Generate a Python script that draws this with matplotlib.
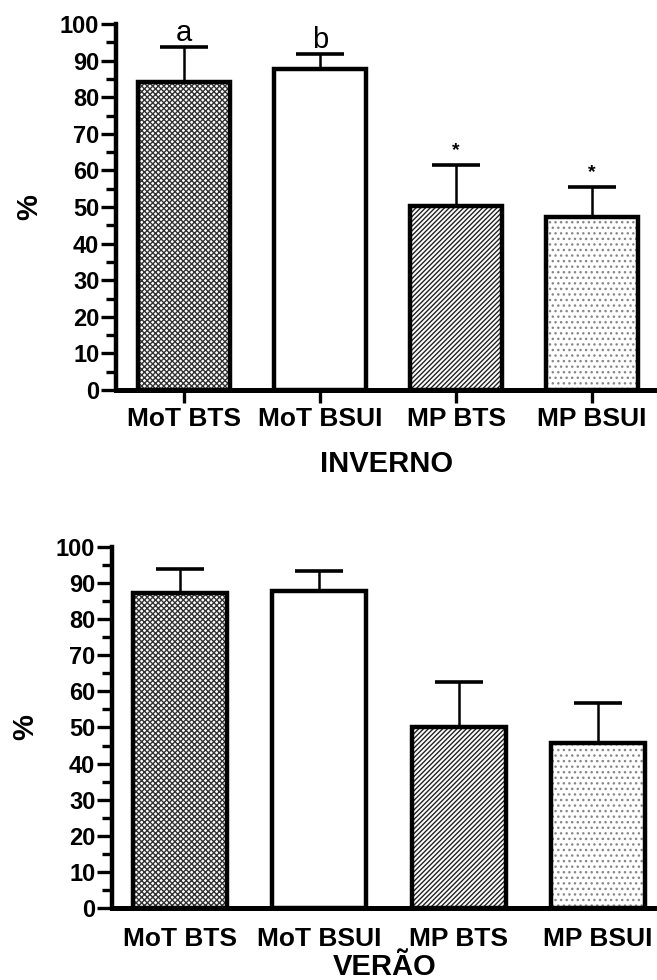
import numpy as np
import matplotlib.pyplot as plt

plt.rcParams['font.family'] = ['Liberation Sans', 'DejaVu Sans']
plt.rcParams['hatch.linewidth'] = 1.0

groups = ['MoT BTS', 'MoT BSUI', 'MP BTS', 'MP BSUI']

# INVERNO
inverno_mean = [84.2, 87.7, 50.3, 47.3]
inverno_err = [9.5, 4.1, 11.2, 8.2]
inverno_marks = ['a', 'b', '*', '*']

# VERAO
verao_mean = [87.3, 87.8, 50.1, 45.7]
verao_err = [6.6, 5.6, 12.5, 11.1]

# fill style per group: face, hatch, hatch colour
faces = ['white', 'white', 'white', 'white']
hatches = ['xxxxxx', None, '///////', '...']
hatch_cols = ['#333333', 'black', '#222222', '#888888']

fig = plt.figure(figsize=(6.57, 9.8), dpi=100)
ax1 = fig.add_axes([0.1766, 0.602, 0.8234, 0.3735])
ax2 = fig.add_axes([0.1705, 0.0735, 0.8295, 0.3684])


def draw(ax, means, errs, width, xlim, xticks_on):
    x = np.arange(len(groups))
    for i in range(len(groups)):
        if hatches[i]:
            ax.bar(x[i], means[i], width, color=faces[i], hatch=hatches[i],
                   edgecolor=hatch_cols[i], linewidth=0, zorder=1)
    ax.bar(x, means, width, fill=False, edgecolor='black', linewidth=3.2, zorder=2)
    ax.errorbar(x, means, yerr=[np.zeros(len(errs)), errs], fmt='none',
                ecolor='black', elinewidth=1.8, capsize=17, capthick=2.6,
                zorder=3, clip_on=False)

    ax.set_xlim(*xlim)
    ax.set_ylim(0, 100)
    ax.spines['top'].set_visible(False)
    ax.spines['right'].set_visible(False)
    ax.spines['left'].set_linewidth(3.2)
    ax.spines['bottom'].set_linewidth(3.6)

    ax.set_yticks(np.arange(0, 101, 10))
    ax.set_yticks(np.arange(5, 100, 10), minor=True)
    ax.tick_params(axis='y', which='major', length=11, width=2.4, pad=1,
                   labelsize=17)
    ax.tick_params(axis='y', which='minor', length=7, width=2.4)
    for t in ax.get_yticklabels():
        t.set_fontweight('bold')

    ax.set_xticks(x)
    ax.set_xticklabels(groups, fontsize=19, fontweight='bold')
    if xticks_on:
        ax.tick_params(axis='x', length=9, width=2.4, pad=3)
    else:
        ax.tick_params(axis='x', length=0, pad=14)

    ax.set_ylabel('%', fontsize=21, fontweight='bold', labelpad=12)
    return x


x = draw(ax1, inverno_mean, inverno_err, 0.67, (-0.5, 3.478), True)
ax1.set_xlabel('INVERNO', fontsize=21, fontweight='bold', labelpad=14)
for i, m in enumerate(inverno_marks):
    top = inverno_mean[i] + inverno_err[i]
    if m == '*':
        ax1.text(x[i], top + 1.5, m, ha='center', va='bottom', fontsize=14,
                 fontweight='bold')
    else:
        ax1.text(x[i], top + 1.6, m, ha='center', va='baseline', fontsize=21)

draw(ax2, verao_mean, verao_err, 0.675, (-0.488, 3.424), False)
ax2.set_xlabel('VERÃO', fontsize=21, fontweight='bold', labelpad=1.5)

fig.savefig('out.png', dpi=100)
